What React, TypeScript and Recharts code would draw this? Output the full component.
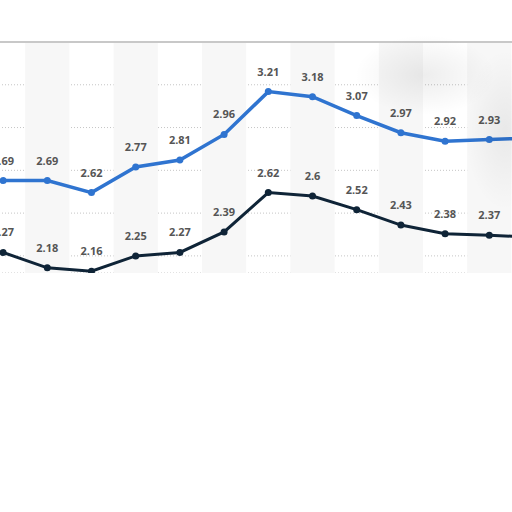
import { LineChart, Line, XAxis, YAxis, CartesianGrid, ReferenceArea, ReferenceLine, LabelList } from "recharts";

// visible periods plus the one cropped off the right edge
const periods = ["P1", "P2", "P3", "P4", "P5", "P6", "P7", "P8", "P9", "P10", "P11", "P12", "P13"];
const blueValues = [2.69, 2.69, 2.62, 2.77, 2.81, 2.96, 3.21, 3.18, 3.07, 2.97, 2.92, 2.93, 2.94];
const darkValues = [2.27, 2.18, 2.16, 2.25, 2.27, 2.39, 2.62, 2.6, 2.52, 2.43, 2.38, 2.37, 2.36];
const gridTicks = [2.25, 2.5, 2.75, 3, 3.25, 3.5];

const data = periods.map((name, i) => ({ i, name, blue: blueValues[i], dark: darkValues[i] }));

const labelStyle = { fontFamily: "'Open Sans', Arial, sans-serif", fontSize: 11, fontWeight: 700, fill: "#555" };

export default function App() {
  return (
    <div style={{ position: "absolute", left: 0, top: 0, width: 512, height: 512, overflow: "hidden", background: "#fff" }}>
      <div style={{ position: "absolute", left: -18.8, top: 0 }}>
        <LineChart width={574.6} height={273} data={data} margin={{ top: 42, right: 0, bottom: 0, left: 0 }}>
          <XAxis dataKey="i" type="number" domain={[-0.5, 12.5]} hide />
          <YAxis domain={[2.15, 3.5]} ticks={gridTicks} hide />
          {data
            .filter((d) => d.i % 2 === 1)
            .map((d) => (
              <ReferenceArea key={d.name} x1={d.i - 0.5} x2={d.i + 0.5} y1={2.15} y2={3.5} fill="#f7f7f7" fillOpacity={1} stroke="none" />
            ))}
          <CartesianGrid vertical={false} stroke="#c4c4c4" strokeDasharray="1 2" />
          <ReferenceLine y={3.5} stroke="#c8c8c8" strokeWidth={2} />
          <Line
            dataKey="dark"
            stroke="#0f2437"
            strokeWidth={3}
            dot={{ r: 3.5, fill: "#0f2437", stroke: "#0f2437", strokeWidth: 0 }}
            isAnimationActive={false}
          >
            <LabelList dataKey="dark" position="top" offset={16} {...labelStyle} />
          </Line>
          <Line
            dataKey="blue"
            stroke="#2f74d0"
            strokeWidth={3.5}
            dot={{ r: 3.5, fill: "#2f74d0", stroke: "#2f74d0", strokeWidth: 0 }}
            isAnimationActive={false}
          >
            <LabelList dataKey="blue" position="top" offset={16} {...labelStyle} />
          </Line>
        </LineChart>
      </div>
      {/* soft grey smudge over the upper right of the picture */}
      <div
        style={{
          position: "absolute",
          left: 0,
          top: 0,
          width: 512,
          height: 512,
          pointerEvents: "none",
          background:
            "radial-gradient(ellipse 70px 40px at 425px 75px, rgba(0,0,0,0.07), rgba(0,0,0,0)), radial-gradient(ellipse 40px 80px at 505px 130px, rgba(0,0,0,0.06), rgba(0,0,0,0))",
        }}
      />
    </div>
  );
}
